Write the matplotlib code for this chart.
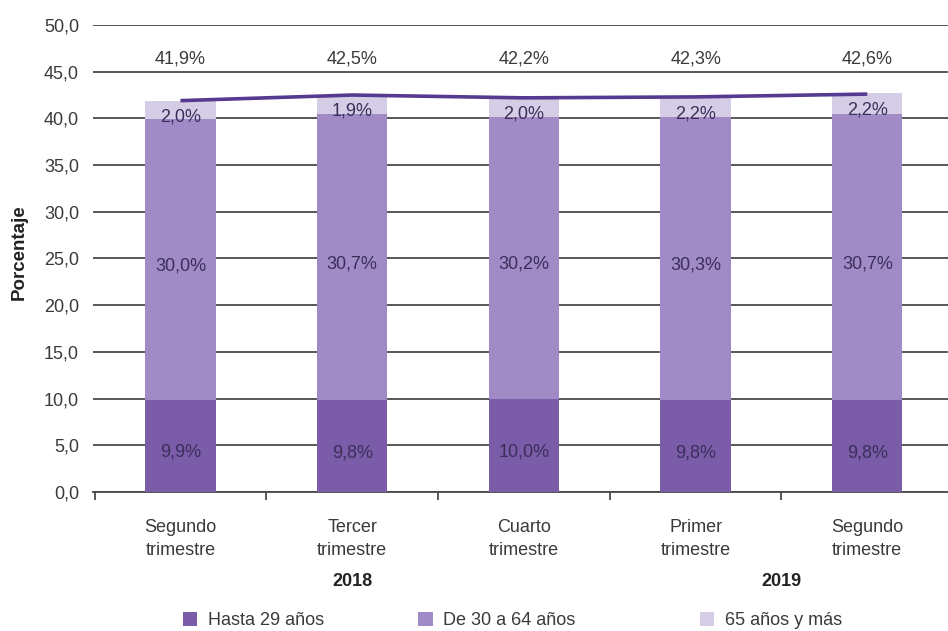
import numpy as np
import matplotlib
matplotlib.use("Agg")
from matplotlib import pyplot as plt
from matplotlib.patches import Patch

plt.rcParams['font.family'] = ['Liberation Sans', 'DejaVu Sans']

# Data
categories = ["Segundo\ntrimestre", "Tercer\ntrimestre", "Cuarto\ntrimestre",
              "Primer\ntrimestre", "Segundo\ntrimestre"]
years = ["2018", "2019"]
series_names = ["Hasta 29 años", "De 30 a 64 años", "65 años y más"]
hasta29 = [9.9, 9.8, 10.0, 9.8, 9.8]
de30a64 = [30.0, 30.7, 30.2, 30.3, 30.7]
mas65 = [2.0, 1.9, 2.0, 2.2, 2.2]
total = [41.9, 42.5, 42.2, 42.3, 42.6]

colors = ["#7a5ca8", "#a08bc6", "#d5cde6"]
line_color = "#553a8f"
text_color = "#3a3a3a"
fs = 13

fig = plt.figure(figsize=(9.48, 6.31), dpi=100)
ax = fig.add_axes([0.098, 0.2203, 0.902, 0.7401])

x = np.arange(len(categories))
w = 0.41
bottom = np.zeros(len(x))
for vals, c in zip([hasta29, de30a64, mas65], colors):
    vals = np.array(vals)
    ax.bar(x, vals, w, bottom=bottom, color=c, zorder=3)
    for xi, b, v in zip(x, bottom, vals):
        ax.text(xi, b + v / 2 - 0.7, f"{v:.1f}%".replace(".", ","), ha="center", va="center",
                fontsize=fs, color="#3b2f5a", zorder=5)
    bottom = bottom + vals

ax.plot(x, total, color=line_color, lw=2.6, zorder=4, solid_capstyle="butt")
for xi, t in zip(x, total):
    ax.text(xi, 46.4, f"{t:.1f}%".replace(".", ","), ha="center", va="center",
            fontsize=fs, color=text_color)

ax.set_ylim(0, 50)
ax.set_xlim(-0.51, 4.47)
ax.set_yticks(np.arange(0, 51, 5))
ax.set_yticklabels([f"{v:.1f}".replace(".", ",") for v in np.arange(0, 51, 5)],
                   fontsize=fs, color=text_color)
ax.yaxis.grid(True, color="#4a4a4a", lw=1.3, zorder=1)
ax.tick_params(axis="y", length=0, pad=10)
ax.set_xticks(np.arange(-0.5, 4.5, 1))
ax.set_xticklabels([])
ax.tick_params(axis="x", length=6, width=1.3, color="#4a4a4a", direction="out")
for s in ["top", "right", "left"]:
    ax.spines[s].set_visible(False)
ax.spines["bottom"].set_color("#4a4a4a")
ax.spines["bottom"].set_linewidth(1.3)

for xi, lab in zip(x, categories):
    ax.text(xi, -2.9, lab, ha="center", va="top", fontsize=fs, color=text_color,
            linespacing=1.45)
ax.text(1, -9.6, years[0], ha="center", va="center", fontsize=fs, fontweight="bold", color="#222222")
ax.text(3.5, -9.6, years[1], ha="center", va="center", fontsize=fs, fontweight="bold", color="#222222")

ax.set_ylabel("Porcentaje", fontsize=13.5, fontweight="bold", color="#222222")
ax.yaxis.set_label_coords(-0.076, 0.514)

# legend entries placed one by one, like the reference spacing
leg_x = [0.193, 0.441, 0.738]
for c, name, lx in zip(colors, series_names, leg_x):
    leg = fig.legend([Patch(facecolor=c, edgecolor="none")], [name], loc="center left",
                     bbox_to_anchor=(lx, 0.016), frameon=False, fontsize=fs,
                     handlelength=0.8, handleheight=0.8, handletextpad=0.6,
                     borderpad=0, borderaxespad=0, labelcolor=text_color)

fig.savefig("out.png", dpi=100)
